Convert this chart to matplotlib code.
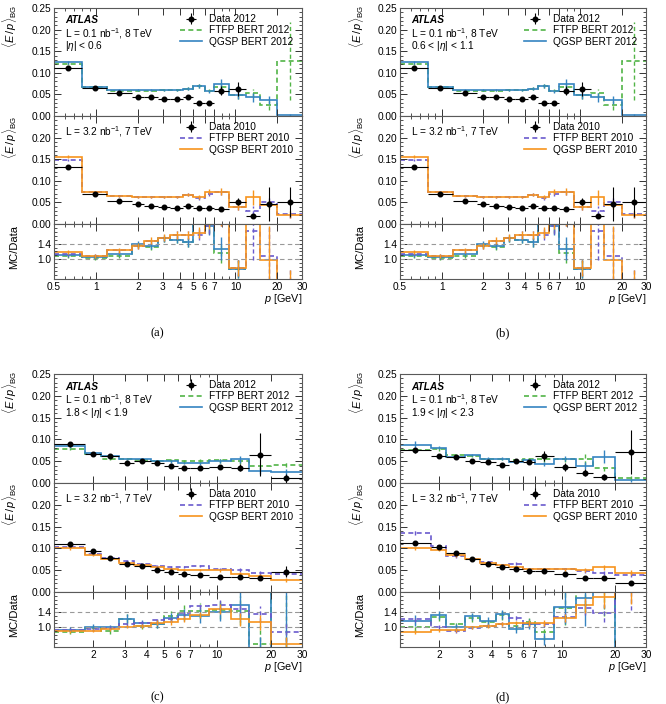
import numpy as np
import matplotlib
matplotlib.use('Agg')
import matplotlib.pyplot as plt
from matplotlib.lines import Line2D
from matplotlib.ticker import FixedLocator, FixedFormatter, MultipleLocator, NullFormatter

plt.rcParams['font.family'] = ['Liberation Sans', 'DejaVu Sans']
plt.rcParams['mathtext.fontset'] = 'custom'
plt.rcParams['mathtext.rm'] = 'Liberation Sans'
plt.rcParams['mathtext.it'] = 'Liberation Sans:italic'
plt.rcParams['mathtext.bf'] = 'Liberation Sans:bold'

nan = np.nan

# bin edges, p [GeV]
edges_central = [0.5, 0.8, 1.2, 1.8, 2.2, 2.8, 3.4, 4.2, 5.0, 6.0, 7.0, 9.0, 12, 15, 20, 30]
edges_forward = [1.2, 1.8, 2.2, 2.8, 3.4, 4.2, 5.0, 6.0, 7.0, 9.0, 12, 15, 20, 30]

# ---- panel (a), |eta| < 0.6 ----
a_data12 = [0.111, 0.064, 0.054, 0.043, 0.045, 0.039, 0.040, 0.044, 0.031, 0.031, 0.059, 0.063, nan, nan, nan]
a_data12_err = [0.004, 0.002, 0.002, 0.002, 0.002, 0.002, 0.002, 0.003, 0.003, 0.003, 0.011, 0.016, nan, nan, nan]
a_ftfp12 = [0.120, 0.066, 0.059, 0.059, 0.059, 0.060, 0.060, 0.063, 0.069, 0.059, 0.068, 0.048, 0.053, 0.025, 0.128]
a_ftfp12_err = [0.003, 0.002, 0.002, 0.002, 0.002, 0.002, 0.002, 0.003, 0.004, 0.004, 0.006, 0.008, 0.009, 0.010, 0.090]
a_qgsp12 = [0.124, 0.068, 0.061, 0.060, 0.060, 0.060, 0.060, 0.063, 0.069, 0.057, 0.075, 0.048, 0.043, 0.037, 0.002]
a_qgsp12_err = [0.003, 0.002, 0.002, 0.002, 0.002, 0.002, 0.002, 0.003, 0.004, 0.004, 0.010, 0.008, 0.010, 0.010, 0.002]
a_data10 = [0.131, 0.069, 0.053, 0.046, 0.042, 0.040, 0.038, 0.042, 0.037, 0.038, 0.035, 0.052, 0.018, 0.046, 0.051]
a_data10_err = [0.004, 0.002, 0.002, 0.002, 0.002, 0.002, 0.002, 0.002, 0.002, 0.002, 0.003, 0.009, 0.005, 0.040, 0.035]
a_ftfp10 = [0.148, 0.075, 0.065, 0.062, 0.062, 0.062, 0.062, 0.068, 0.060, 0.070, 0.075, 0.040, 0.031, 0.050, 0.022]
a_ftfp10_err = [0.003, 0.002, 0.002, 0.002, 0.002, 0.002, 0.002, 0.003, 0.004, 0.006, 0.008, 0.008, 0.010, 0.010, 0.008]
a_qgsp10 = [0.156, 0.075, 0.065, 0.062, 0.062, 0.062, 0.062, 0.068, 0.062, 0.075, 0.075, 0.040, 0.062, 0.045, 0.021]
a_qgsp10_err = [0.004, 0.002, 0.002, 0.002, 0.002, 0.002, 0.002, 0.003, 0.004, 0.006, 0.008, 0.008, 0.017, 0.010, 0.008]

# ---- panel (b), 0.6 < |eta| < 1.1 (reads the same as (a)) ----
b_data12, b_data12_err = a_data12, a_data12_err
b_ftfp12, b_ftfp12_err = a_ftfp12, a_ftfp12_err
b_qgsp12, b_qgsp12_err = a_qgsp12, a_qgsp12_err
b_data10, b_data10_err = a_data10, a_data10_err
b_ftfp10, b_ftfp10_err = a_ftfp10, a_ftfp10_err
b_qgsp10, b_qgsp10_err = a_qgsp10, a_qgsp10_err

# ---- panel (c), 1.8 < |eta| < 1.9 ----
c_data12 = [0.089, 0.067, 0.062, 0.045, 0.050, 0.046, 0.040, 0.035, 0.035, 0.036, 0.035, 0.065, 0.011]
c_data12_err = [0.004, 0.003, 0.003, 0.003, 0.003, 0.003, 0.003, 0.003, 0.004, 0.005, 0.008, 0.050, 0.010]
c_ftfp12 = [0.078, 0.066, 0.056, 0.055, 0.052, 0.050, 0.052, 0.050, 0.050, 0.052, 0.050, 0.038, 0.042]
c_ftfp12_err = [0.003, 0.003, 0.003, 0.003, 0.003, 0.003, 0.003, 0.003, 0.004, 0.005, 0.006, 0.007, 0.006]
c_qgsp12 = [0.084, 0.068, 0.062, 0.055, 0.055, 0.050, 0.050, 0.046, 0.045, 0.050, 0.055, 0.027, 0.025]
c_qgsp12_err = [0.003, 0.003, 0.003, 0.003, 0.003, 0.003, 0.003, 0.003, 0.004, 0.005, 0.008, 0.007, 0.006]
c_data10 = [0.111, 0.093, 0.079, 0.065, 0.059, 0.051, 0.047, 0.042, 0.038, 0.034, 0.034, 0.032, 0.047]
c_data10_err = [0.003, 0.003, 0.002, 0.002, 0.002, 0.002, 0.002, 0.002, 0.002, 0.002, 0.003, 0.003, 0.012]
c_ftfp10 = [0.104, 0.088, 0.078, 0.070, 0.065, 0.060, 0.057, 0.057, 0.059, 0.053, 0.050, 0.043, 0.041]
c_ftfp10_err = [0.003, 0.002, 0.002, 0.002, 0.002, 0.002, 0.002, 0.002, 0.002, 0.003, 0.004, 0.005, 0.005]
c_qgsp10 = [0.100, 0.085, 0.075, 0.066, 0.061, 0.057, 0.053, 0.051, 0.050, 0.050, 0.041, 0.036, 0.027]
c_qgsp10_err = [0.003, 0.002, 0.002, 0.002, 0.002, 0.002, 0.002, 0.002, 0.002, 0.003, 0.004, 0.005, 0.005]

# ---- panel (d), 1.9 < |eta| < 2.3 ----
d_data12 = [0.075, 0.062, 0.059, 0.050, 0.048, 0.042, 0.050, 0.048, 0.062, 0.037, 0.023, 0.014, 0.071]
d_data12_err = [0.006, 0.004, 0.003, 0.003, 0.003, 0.003, 0.004, 0.004, 0.012, 0.010, 0.008, 0.006, 0.050]
d_ftfp12 = [0.075, 0.078, 0.064, 0.062, 0.055, 0.055, 0.052, 0.054, 0.054, 0.055, 0.054, 0.035, 0.012]
d_ftfp12_err = [0.005, 0.004, 0.003, 0.003, 0.003, 0.003, 0.003, 0.004, 0.005, 0.006, 0.012, 0.008, 0.004]
d_qgsp12 = [0.088, 0.081, 0.060, 0.064, 0.056, 0.056, 0.048, 0.052, 0.044, 0.056, 0.040, 0.060, 0.006]
d_qgsp12_err = [0.008, 0.004, 0.003, 0.003, 0.003, 0.003, 0.003, 0.004, 0.005, 0.006, 0.008, 0.015, 0.004]
d_data10 = [0.113, 0.104, 0.090, 0.076, 0.065, 0.058, 0.052, 0.048, 0.048, 0.042, 0.032, 0.032, 0.021]
d_data10_err = [0.004, 0.003, 0.003, 0.002, 0.002, 0.002, 0.002, 0.002, 0.002, 0.003, 0.003, 0.004, 0.004]
d_ftfp10 = [0.136, 0.105, 0.082, 0.075, 0.068, 0.063, 0.065, 0.052, 0.052, 0.053, 0.048, 0.044, 0.040]
d_ftfp10_err = [0.006, 0.003, 0.003, 0.002, 0.002, 0.002, 0.003, 0.003, 0.003, 0.003, 0.004, 0.005, 0.006]
d_qgsp10 = [0.100, 0.096, 0.084, 0.076, 0.067, 0.063, 0.058, 0.053, 0.053, 0.052, 0.050, 0.057, 0.044]
d_qgsp10_err = [0.004, 0.003, 0.003, 0.002, 0.002, 0.002, 0.002, 0.003, 0.003, 0.003, 0.004, 0.006, 0.006]

# colours
col_ftfp12 = '#52b447'
col_qgsp12 = '#3584c1'
col_ftfp10 = '#6a5acd'
col_qgsp10 = '#f7941d'
dash = (0, (3, 2))
fs = 7.3

W, H = 666, 704
fig = plt.figure(figsize=(W / 100, H / 100), dpi=100)


def box(x0, y0, x1, y1):
    return [x0 / W, 1 - y1 / H, (x1 - x0) / W, (y1 - y0) / H]


def centers(edges):
    e = np.asarray(edges, float)
    return np.sqrt(e[:-1] * e[1:])


def style_axes(ax, edges, xmaj, xmin):
    ax.set_xscale('log')
    ax.set_xlim(edges[0], edges[-1])
    ax.xaxis.set_major_locator(FixedLocator(xmaj))
    ax.xaxis.set_minor_locator(FixedLocator(xmin))
    ax.xaxis.set_major_formatter(NullFormatter())
    ax.xaxis.set_minor_formatter(NullFormatter())
    ax.tick_params(which='both', direction='in', top=True, right=True,
                   labelsize=fs, pad=2, color='0.2')
    ax.tick_params(which='major', length=5, width=0.7)
    ax.tick_params(which='minor', length=2.5, width=0.6)
    for s in ax.spines.values():
        s.set_color('0.35')
        s.set_linewidth(0.8)


def draw_mc(ax, edges, vals, errs, color, ls):
    ax.stairs(vals, edges, baseline=None, color=color, ls=ls, lw=1.2)
    eb = ax.errorbar(centers(edges), vals, yerr=errs, fmt='none',
                     ecolor=color, elinewidth=1.0)
    eb[2][0].set_linestyle(ls)


def draw_data(ax, edges, vals, errs):
    c = centers(edges)
    e = np.asarray(edges, float)
    ax.errorbar(c, vals, xerr=[c - e[:-1], e[1:] - c], yerr=errs, fmt='o',
                color='k', ms=3.3, elinewidth=0.8, capsize=0, zorder=5)


def ratio(mc, mc_err, d, d_err):
    mc, mc_err, d, d_err = (np.asarray(x, float) for x in (mc, mc_err, d, d_err))
    r = mc / d
    r_err = r * np.sqrt((mc_err / mc) ** 2 + (d_err / d) ** 2)
    return r, r_err


def legend(ax, year, c_f, c_q):
    h_f = Line2D([], [], color=c_f, ls=dash, lw=1.2)
    h_q = Line2D([], [], color=c_q, lw=1.2)
    eb = ax.errorbar([], [], xerr=[], yerr=[], fmt='o', color='k', ms=3.3,
                     elinewidth=0.8)
    ax.legend([eb, h_f, h_q],
              ['Data %d' % year, 'FTFP BERT %d' % year, 'QGSP BERT %d' % year],
              loc='upper right', frameon=False, fontsize=fs, labelspacing=0.12,
              handlelength=2.2, handletextpad=0.7, borderaxespad=0.2,
              bbox_to_anchor=(0.99, 1.0))


def panel(col, row, edges, s12, s10, eta_text, xmaj, xlabels, xmin, caption, cap_y):
    x0, x1 = col
    y0, y1, y2, y3 = row
    ax1 = fig.add_axes(box(x0, y0, x1, y1))
    ax2 = fig.add_axes(box(x0, y1, x1, y2))
    ax3 = fig.add_axes(box(x0, y2, x1, y3))
    for ax in (ax1, ax2, ax3):
        style_axes(ax, edges, xmaj, xmin)

    d12, d12e, f12, f12e, q12, q12e = s12
    d10, d10e, f10, f10e, q10, q10e = s10

    # 2012 panel
    draw_mc(ax1, edges, f12, f12e, col_ftfp12, dash)
    draw_mc(ax1, edges, q12, q12e, col_qgsp12, '-')
    draw_data(ax1, edges, d12, d12e)
    ax1.set_ylim(0, 0.25)
    ax1.set_yticks(np.arange(0, 0.26, 0.05))
    ax1.set_yticklabels(['%.2f' % v for v in np.arange(0, 0.26, 0.05)])
    ax1.yaxis.set_minor_locator(MultipleLocator(0.01))
    legend(ax1, 2012, col_ftfp12, col_qgsp12)
    ax1.text(0.045, 0.885, 'ATLAS', transform=ax1.transAxes, fontsize=fs,
             fontweight='bold', fontstyle='italic', va='center')
    ax1.text(0.045, 0.765, r'L = 0.1 nb$^{-1}$, 8 TeV', transform=ax1.transAxes,
             fontsize=fs, va='center')
    ax1.text(0.045, 0.645, eta_text, transform=ax1.transAxes, fontsize=fs,
             va='center')
    ax1.set_ylabel(r'$\langle E\,/\,p\rangle_{\mathrm{BG}}$', fontsize=8, loc='top')
    ax1.yaxis.set_label_coords(-0.14, 1.03)

    # 2010 panel
    draw_mc(ax2, edges, f10, f10e, col_ftfp10, dash)
    draw_mc(ax2, edges, q10, q10e, col_qgsp10, '-')
    draw_data(ax2, edges, d10, d10e)
    ax2.set_ylim(0, 0.25)
    ax2.set_yticks(np.arange(0, 0.26, 0.05))
    ax2.set_yticklabels(['%.2f' % v for v in np.arange(0, 0.21, 0.05)] + [''])
    ax2.yaxis.set_minor_locator(MultipleLocator(0.01))
    legend(ax2, 2010, col_ftfp10, col_qgsp10)
    ax2.text(0.045, 0.86, r'L = 3.2 nb$^{-1}$, 7 TeV', transform=ax2.transAxes,
             fontsize=fs, va='center')
    ax2.set_ylabel(r'$\langle E\,/\,p\rangle_{\mathrm{BG}}$', fontsize=8, loc='top')
    ax2.yaxis.set_label_coords(-0.14, 1.0)

    # ratio panel
    ax3.axhline(1.0, color='0.6', ls=(0, (4, 3)), lw=0.8)
    ax3.axhline(1.4, color='0.6', ls=(0, (4, 3)), lw=0.8)
    for mc, mce, d, de, colr, ls in ((f12, f12e, d12, d12e, col_ftfp12, dash),
                                     (q12, q12e, d12, d12e, col_qgsp12, '-'),
                                     (f10, f10e, d10, d10e, col_ftfp10, dash),
                                     (q10, q10e, d10, d10e, col_qgsp10, '-')):
        r, r_err = ratio(mc, mce, d, de)
        draw_mc(ax3, edges, r, r_err, colr, ls)
    ax3.set_ylim(0.5, 1.9)
    ax3.yaxis.set_major_locator(FixedLocator([1.0, 1.4]))
    ax3.set_yticklabels(['1.0', '1.4'])
    ax3.yaxis.set_minor_locator(MultipleLocator(0.1))
    ax3.xaxis.set_major_formatter(FixedFormatter(xlabels))
    ax3.set_xlabel(r'$p$ [GeV]', loc='right', fontsize=fs + 0.5, labelpad=0)
    ax3.set_ylabel('MC/Data', fontsize=8)
    ax3.yaxis.set_label_coords(-0.14, 0.58)

    fig.text((x0 - 54 + 157) / W, 1 - cap_y / H, caption, ha='center',
             va='center', fontsize=9, family='Liberation Serif')


xmaj_central = [0.5, 1, 2, 3, 4, 5, 6, 7, 10, 20, 30]
xlab_central = ['0.5', '1', '2', '3', '4', '5', '6', '7', '10', '20', '30']
xmin_central = [0.6, 0.7, 0.8, 0.9, 8, 9]
xmaj_forward = [2, 3, 4, 5, 6, 7, 10, 20, 30]
xlab_forward = ['2', '3', '4', '5', '6', '7', '10', '20', '30']
xmin_forward = [8, 9]

col_left = (54, 302)
col_right = (400, 646)
row_top = (8, 116, 224, 279)
row_bottom = (374, 483, 592, 647)

panel(col_left, row_top, edges_central,
      (a_data12, a_data12_err, a_ftfp12, a_ftfp12_err, a_qgsp12, a_qgsp12_err),
      (a_data10, a_data10_err, a_ftfp10, a_ftfp10_err, a_qgsp10, a_qgsp10_err),
      r'$|\eta|$ < 0.6', xmaj_central, xlab_central, xmin_central, '(a)', 333)
panel(col_right, row_top, edges_central,
      (b_data12, b_data12_err, b_ftfp12, b_ftfp12_err, b_qgsp12, b_qgsp12_err),
      (b_data10, b_data10_err, b_ftfp10, b_ftfp10_err, b_qgsp10, b_qgsp10_err),
      r'0.6 < $|\eta|$ < 1.1', xmaj_central, xlab_central, xmin_central, '(b)', 333)
panel(col_left, row_bottom, edges_forward,
      (c_data12, c_data12_err, c_ftfp12, c_ftfp12_err, c_qgsp12, c_qgsp12_err),
      (c_data10, c_data10_err, c_ftfp10, c_ftfp10_err, c_qgsp10, c_qgsp10_err),
      r'1.8 < $|\eta|$ < 1.9', xmaj_forward, xlab_forward, xmin_forward, '(c)', 697)
panel(col_right, row_bottom, edges_forward,
      (d_data12, d_data12_err, d_ftfp12, d_ftfp12_err, d_qgsp12, d_qgsp12_err),
      (d_data10, d_data10_err, d_ftfp10, d_ftfp10_err, d_qgsp10, d_qgsp10_err),
      r'1.9 < $|\eta|$ < 2.3', xmaj_forward, xlab_forward, xmin_forward, '(d)', 697)

fig.savefig('out.png', dpi=100)
